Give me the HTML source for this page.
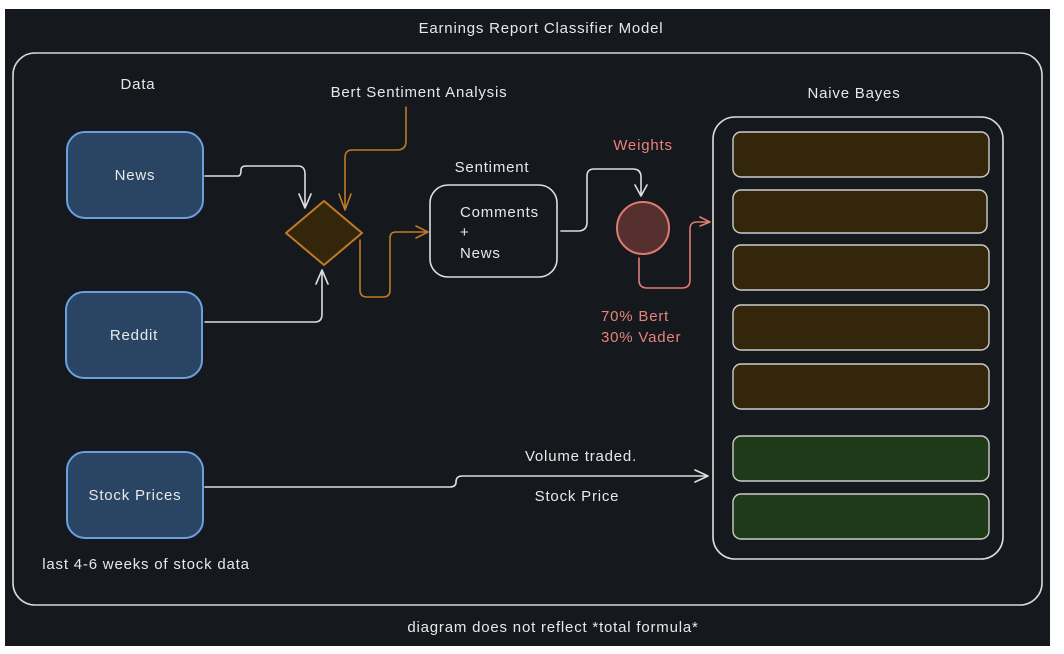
<!DOCTYPE html>
<html><head><meta charset="utf-8"><style>
html,body{margin:0;padding:0;background:#fff;}
svg{display:block;}
text{font-family:"Liberation Sans",sans-serif;font-size:15px;fill:#e8e8e8;letter-spacing:0.8px;}
</style></head><body>
<svg width="1064" height="654" viewBox="0 0 1064 654" xmlns="http://www.w3.org/2000/svg">
<rect x="5" y="9" width="1045" height="637" fill="#15181d"/>
<g fill="none" stroke-width="1.6" stroke-linecap="round" stroke-linejoin="round">
<rect x="13" y="53" width="1029" height="552" rx="22" stroke="#d8d8d8"/>
<rect x="67" y="132" width="136" height="86" rx="18" fill="#2a4563" stroke="#6aa0e0" stroke-width="2"/>
<rect x="66" y="292" width="136" height="86" rx="18" fill="#2a4563" stroke="#6aa0e0" stroke-width="2"/>
<rect x="67" y="452" width="136" height="86" rx="18" fill="#2a4563" stroke="#6aa0e0" stroke-width="2"/>
<path d="M324 201 L362 233 L324 265 L286 233 Z" fill="#33260b" stroke="#c07a25" stroke-width="2"/>
<rect x="430" y="185" width="127" height="92" rx="18" stroke="#dddddd"/>
<circle cx="643" cy="228" r="26" fill="#55302e" stroke="#e07a72" stroke-width="2"/>
<rect x="713" y="117" width="290" height="442" rx="22" stroke="#dddddd"/>
<g stroke="#cccccc" stroke-width="1.4">
<rect x="733" y="132" width="256" height="45" rx="8" fill="#33260b"/>
<rect x="733" y="190" width="254" height="43" rx="8" fill="#33260b"/>
<rect x="733" y="245" width="256" height="45" rx="8" fill="#33260b"/>
<rect x="733" y="305" width="256" height="45" rx="8" fill="#33260b"/>
<rect x="733" y="364" width="256" height="45" rx="8" fill="#33260b"/>
<rect x="733" y="436" width="256" height="45" rx="8" fill="#1f3a18"/>
<rect x="733" y="494" width="256" height="45" rx="8" fill="#1f3a18"/>
</g>
<g stroke="#dddddd">
<path d="M205 176 H238 Q241 176 241 170 Q241 166 246 166 H298 Q305 166 305 174 V208 M299 194 L305 208 L311 194"/>
<path d="M205 322 H315 Q322 322 322 314 V270 M316 284 L322 270 L328 284"/>
<path d="M561 231 H578 Q587 231 587 222 V176 Q587 169 594 169 H633 Q641 169 641 177 V196 M635 185 L641 196 L647 185"/>
<path d="M205 487 H450 Q456 487 456 482 Q456 476 462 476 H708 M695 470 L708 476 L695 482"/>
</g>
<g stroke="#c07a25">
<path d="M406 107 V141 Q406 150 397 150 H352 Q345 150 345 158 V210 M339 194 L345 210 L351 194"/>
<path d="M360 240 V290 Q360 297 367 297 H383 Q390 297 390 290 V238 Q390 232 396 232 H428 M416 226 L428 232 L416 238"/>
</g>
<g stroke="#e07a72">
<path d="M639 258 V280 Q639 288 647 288 H682 Q690 288 690 280 V229 Q690 222 697 222 H710 M700 217 L710 222 L700 226"/>
</g>
</g>
<text x="541" y="33" text-anchor="middle">Earnings Report Classifier Model</text>
<text x="138" y="89" text-anchor="middle">Data</text>
<text x="419" y="97" text-anchor="middle">Bert Sentiment Analysis</text>
<text x="135" y="180" text-anchor="middle">News</text>
<text x="134" y="340" text-anchor="middle">Reddit</text>
<text x="135" y="500" text-anchor="middle">Stock Prices</text>
<text x="146" y="569" text-anchor="middle">last 4-6 weeks of stock data</text>
<text x="492" y="172" text-anchor="middle">Sentiment</text>
<text x="460" y="217">Comments</text>
<text x="460" y="237">+</text>
<text x="460" y="258">News</text>
<text x="643" y="150" text-anchor="middle" style="fill:#e8837a">Weights</text>
<text x="601" y="321" style="fill:#e8837a">70% Bert</text>
<text x="601" y="342" style="fill:#e8837a">30% Vader</text>
<text x="854" y="98" text-anchor="middle">Naive Bayes</text>
<text x="581" y="461" text-anchor="middle">Volume traded.</text>
<text x="577" y="501" text-anchor="middle">Stock Price</text>
<text x="553" y="632" text-anchor="middle">diagram does not reflect *total formula*</text>
</svg>
</body></html>
